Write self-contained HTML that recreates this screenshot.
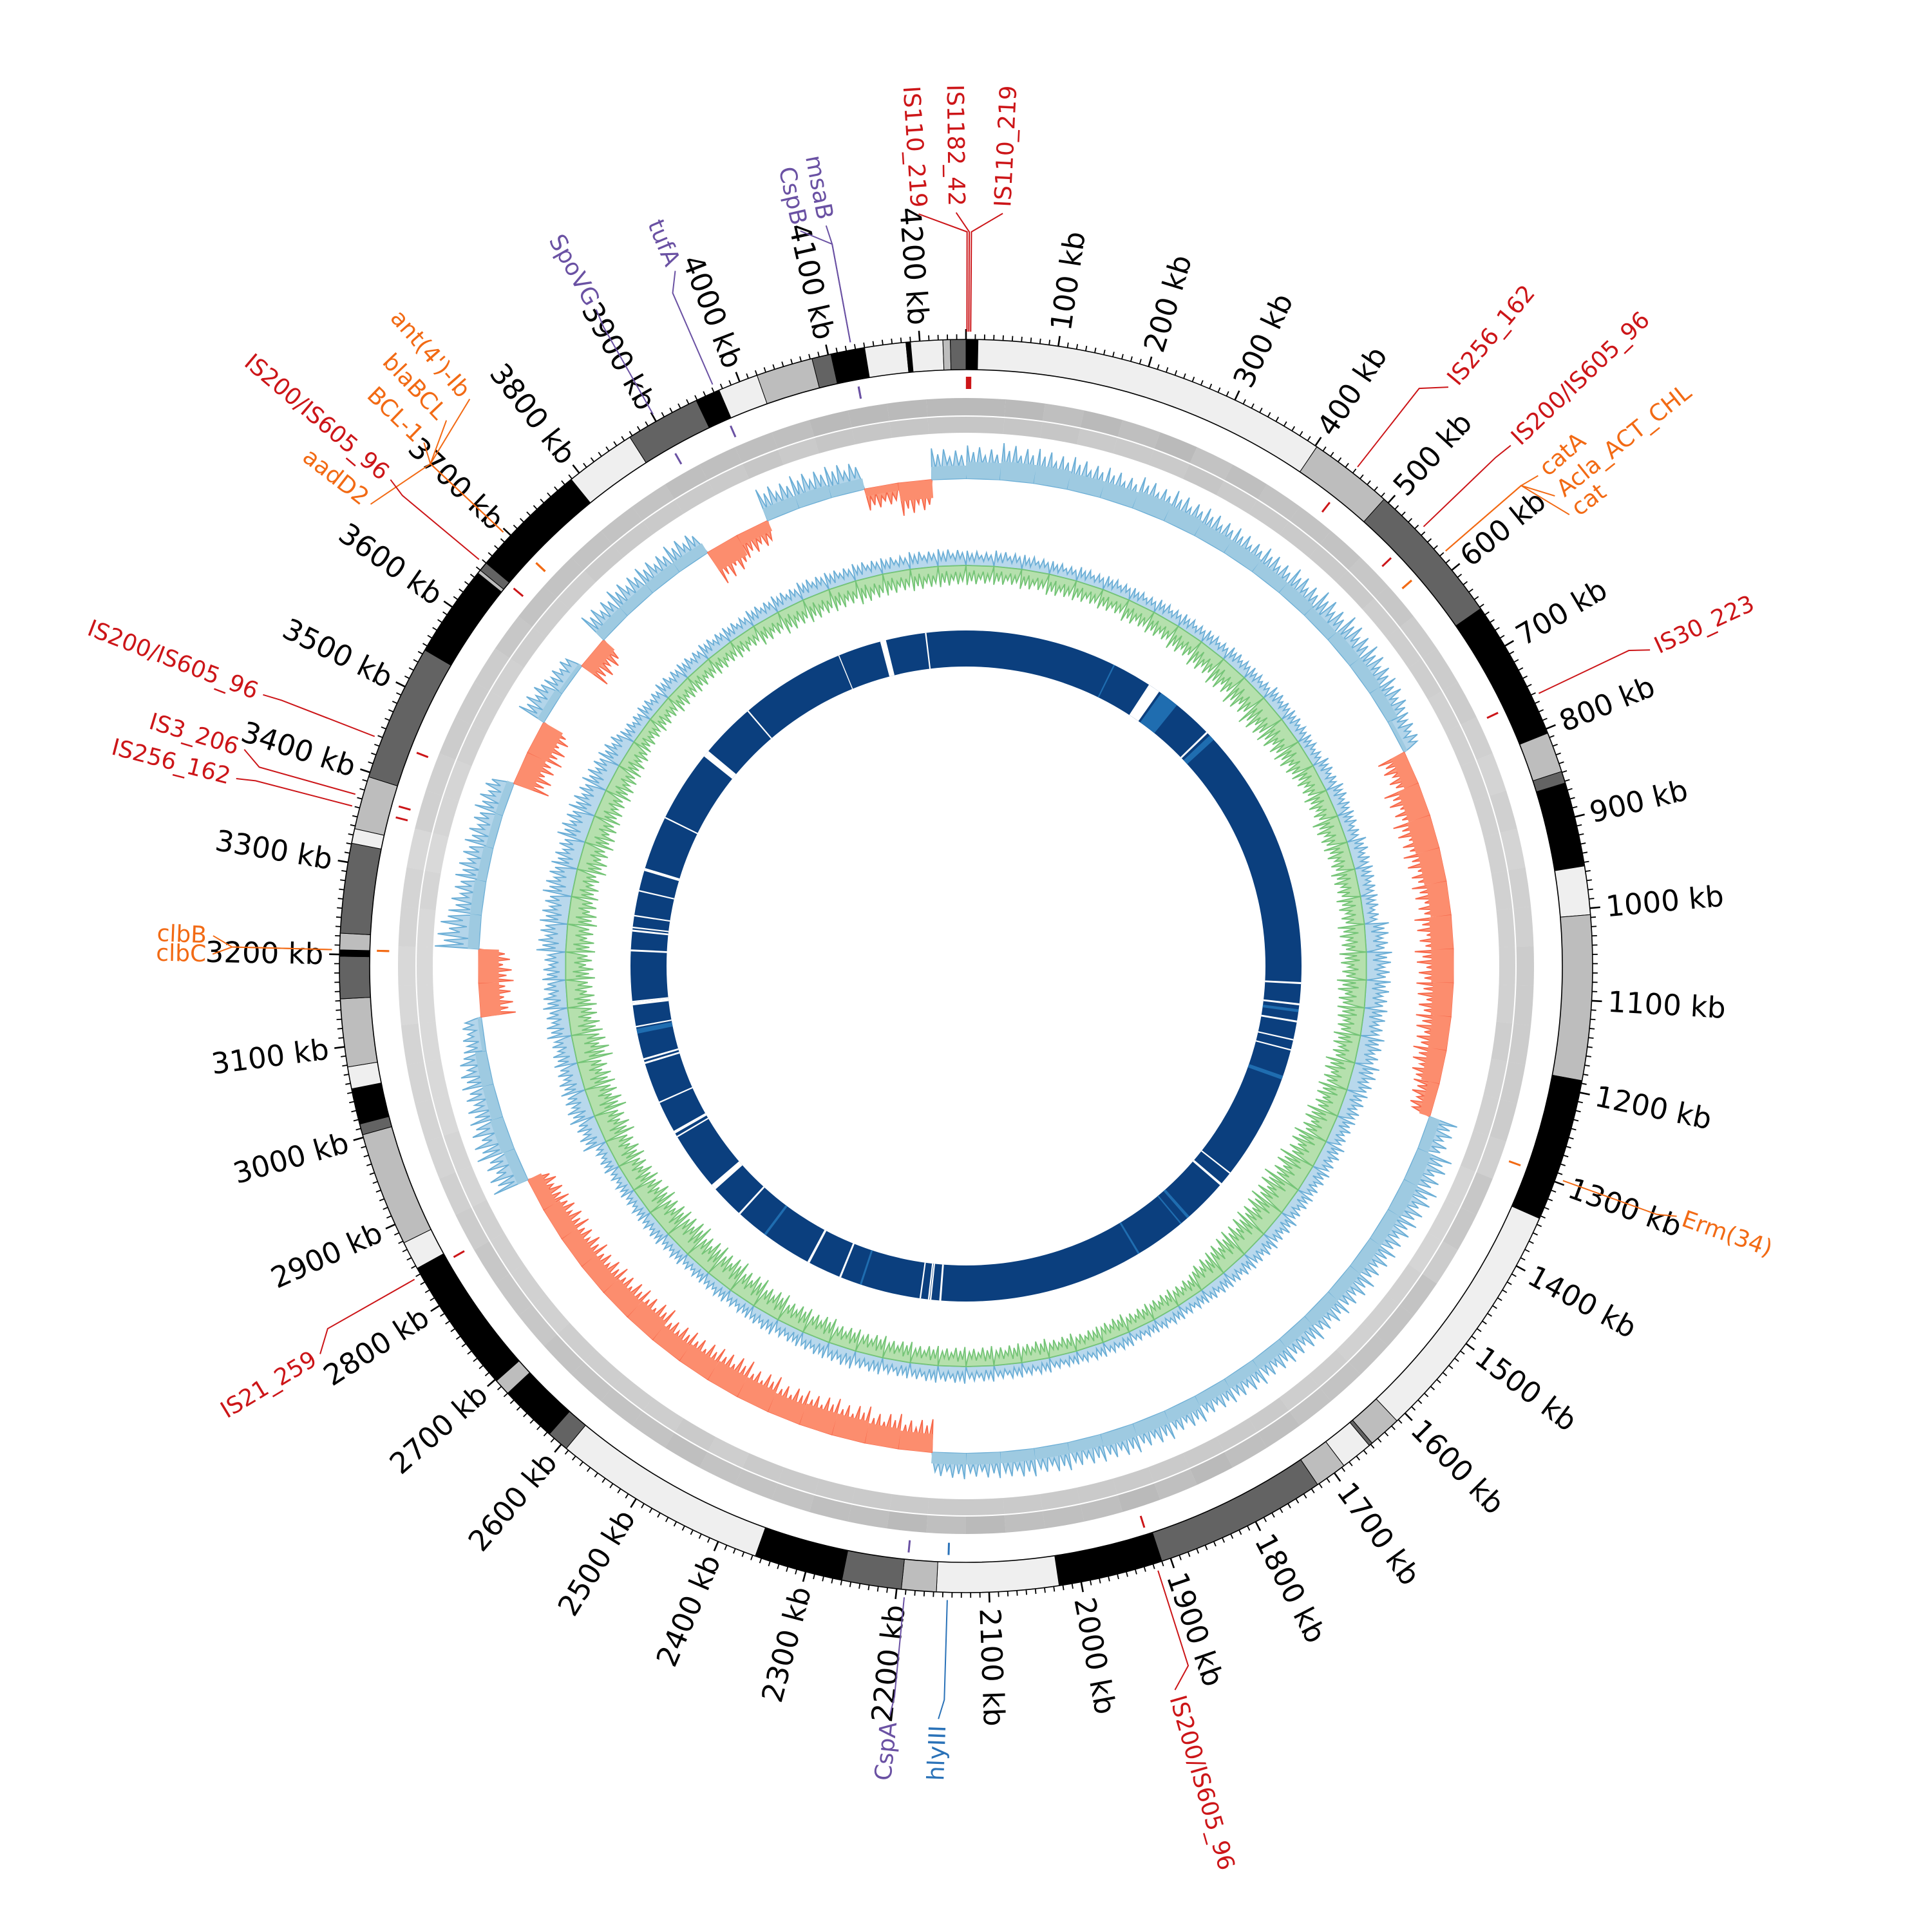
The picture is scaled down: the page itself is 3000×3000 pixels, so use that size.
<!DOCTYPE html>
<html><head><meta charset="utf-8"><title>Circular genome map</title>
<style>
html,body{margin:0;padding:0;background:#fff;}
svg{display:block;font-family:"DejaVu Sans","Liberation Sans",sans-serif;}
</style></head>
<body>
<svg id="chart" width="3000" height="3000" viewBox="0 0 3000 3000" xmlns="http://www.w3.org/2000/svg">
<rect width="3000" height="3000" fill="#fff"/>
<g id="gBands"></g>
<g id="gTicks"></g>
<g id="gGenes"></g>
<g id="gSkew"></g>
<g id="gGC"></g>
<g id="gBlast"></g>
<g id="gAnno"></g>
</svg>
<script>
// ---------- data ----------
const genomeKb = 4250;
const bandStart = [0,13,402,494,652,805,849,862,954,1007,1187,1343,1612,1648,1652,1687,1722,1910,2024,2157,2195,2260,2357,2593,2617,2680,2698,2847,2878,3003,3015,3054,3078,3152,3198,3205,3223,3321,3337,3395,3545,3646,3650,3660,3789,3867,3949,3976,4020,4082,4103,4140,4185,4190,4225,4233];
const bandEnd   = [13,402,494,652,805,849,862,954,1007,1187,1343,1612,1648,1652,1687,1722,1910,2024,2157,2195,2260,2357,2593,2617,2680,2698,2847,2878,3003,3015,3054,3078,3152,3198,3205,3223,3321,3337,3395,3545,3646,3650,3660,3789,3867,3949,3976,4020,4082,4103,4140,4185,4190,4225,4233,4250];
const bandShade = ['k','l','m','d','k','m','d','k','l','m','k','l','m','d','l','m','d','k','l','m','d','k','l','d','k','m','k','l','m','d','k','l','m','d','k','m','d','l','m','d','k','m','d','k','l','d','k','l','m','d','k','l','k','l','m','d'];

const skewMean = [0.45,0.5,0.5,0.45,0.45,0.5,0.45,0.4, 0.4,0.35,0.35,0.3,0.35,0.35,0.3, 0.1,-0.4, -0.6,-0.65,-0.6,-0.55,-0.6,-0.6,-0.55,-0.5,-0.5, -0.3,0.3, 0.4,0.4,0.35,0.35,0.35,0.35,0.3,0.3,0.3,0.3,0.35,0.35,0.35,0.3,0.3,0.3,0.3,0.3, -0.5,-0.55,-0.6,-0.6,-0.55,-0.6,-0.6,-0.55,-0.5,-0.6,-0.55,-0.5,-0.5,-0.5,-0.4, 0.3,0.35,0.3,0.3, 0.1,-0.55,-0.55, 0.3,0.3,0.25,0.2,0.2, -0.55,-0.6, 0.2,0.1,-0.4, 0.3,0.3,0.3,0.3, -0.6,-0.3, 0.35,0.35,0.3, -0.2,-0.5,0.35];
const skewPeak = [0.9,1.0,0.95,0.9,0.85,0.9,0.9,0.85, 0.8,0.8,0.85,0.9,0.95,0.9,0.8, 0.6,-0.8, -1.0,-1.05,-1.0,-0.95,-1.0,-1.05,-1.0,-0.95,-0.9, -0.7,0.8, 1.0,1.0,0.9,0.85,0.85,0.8,0.8,0.75,0.75,0.7,0.75,0.8,0.8,0.75,0.75,0.75,0.7,0.7, -0.9,-0.95,-1.0,-1.0,-0.95,-1.0,-1.05,-0.95,-0.9,-1.0,-0.95,-0.9,-0.9,-0.9,-0.8, 1.0,1.05,0.9,0.85, 0.6,-0.95,-0.95, 1.2,0.9,0.85,0.8,0.8, -1.0,-1.0, 0.8,0.6,-0.85, 0.85,0.85,0.8,0.8, -1.0,-0.7, 0.9,0.9,0.85, -0.6,-0.9,0.85];

const gcHigh = [0.6,0.65,0.6,0.55,0.6,0.6,0.55,0.6,0.6, 0.6,0.65,0.6,0.7,0.65,0.6, 0.7,0.75,0.7,0.8,0.75,0.7, 1.0,1.05,1.0,0.95,1.0,1.05,0.9, 0.8,0.85,0.8,0.75,0.8,0.8,0.75,0.7, 0.6,0.6,0.55,0.6,0.6,0.55,0.6,0.6,0.65, 0.7,0.7,0.65,0.7,0.75,0.7,0.65,0.7, 0.6,0.6,0.55,0.6,0.65,0.6,0.6,0.65, 1.0,1.05,1.0,0.95,1.0,1.0,0.95, 1.2,1.15,1.2,1.1,1.2,1.15,1.1,1.0, 0.7,0.7,0.75,0.7,0.7,0.65,0.7, 0.7,0.75,0.7,0.7,0.65,0.7,0.7];
const gcLow  = [-0.8,-0.75,-0.8,-0.85,-0.8,-0.8,-0.9,-0.9,-1.0, -1.1,-1.2,-1.3,-1.4,-1.3,-1.2, -1.0,-1.0,-1.1,-1.0,-1.0,-1.0, -1.1,-1.1,-1.2,-1.1,-1.1,-1.2,-1.2, -1.3,-1.4,-1.5,-1.6,-1.5,-1.4,-1.3,-1.1, -0.8,-0.8,-0.75,-0.8,-0.7,-0.75,-0.8,-0.8,-0.8, -0.8,-0.8,-0.85,-0.9,-0.9,-1.0,-1.0,-1.1, -1.2,-1.3,-1.3,-1.4,-1.3,-1.3,-1.2,-1.2, -1.3,-1.4,-1.3,-1.5,-1.3,-1.2,-1.2, -1.2,-1.2,-1.1,-1.2,-1.2,-1.1,-1.1,-1.0, -0.8,-0.8,-0.85,-0.8,-0.8,-0.8,-0.9, -1.0,-1.0,-0.95,-1.0,-0.9,-0.9,-0.85];

const geneFwd = [0.8,0.8,0.75,0.8,0.75,0.8,0.7,0.75,0.7, 0.7,0.7,0.65,0.65,0.6,0.6, 0.6,0.55,0.5,0.55,0.5,0.55, 0.55,0.6,0.6,0.6,0.6,0.6,0.55, 0.65,0.65,0.6,0.7,0.7,0.7,0.7,0.7, 0.75,0.75,0.8,0.75,0.8,0.75,0.75,0.75,0.8, 0.75,0.8,0.75,0.75,0.7,0.7,0.7,0.75, 0.7,0.7,0.7,0.7,0.65,0.65,0.65,0.6, 0.55,0.5,0.5,0.5,0.5,0.45,0.45, 0.5,0.5,0.45,0.55,0.55,0.6,0.6,0.6, 0.65,0.7,0.7,0.7,0.7,0.7,0.75, 0.75,0.75,0.75,0.8,0.8,0.8,0.8];
const geneRev = [0.75,0.75,0.75,0.7,0.7,0.7,0.75,0.7,0.7, 0.7,0.7,0.7,0.65,0.65,0.65, 0.6,0.6,0.6,0.6,0.6,0.6, 0.6,0.6,0.6,0.65,0.6,0.6,0.6, 0.55,0.55,0.55,0.6,0.6,0.6,0.65,0.65, 0.7,0.7,0.7,0.7,0.7,0.7,0.7,0.7,0.7, 0.7,0.7,0.7,0.7,0.7,0.7,0.65,0.7, 0.65,0.65,0.65,0.65,0.6,0.6,0.6,0.6, 0.55,0.55,0.5,0.5,0.5,0.5,0.5, 0.5,0.55,0.5,0.55,0.55,0.6,0.6,0.6, 0.65,0.65,0.65,0.7,0.7,0.7,0.7, 0.7,0.75,0.7,0.75,0.75,0.75,0.75];

const gapKb    = [308,390,420,540,550,1095,1138,1150,1173,1211,1232,1288,1511,1539,1632,1653,1757,2175,2195,2199,2216,2339,2383,2453,2557,2624,2695,2825,2834,2903,2987,2995,3050,3063,3108,3114,3217,3257,3264,3288,3339,3382,3496,3644,3770,3986,4075,4167];
const gapWidth = [3,25,40,4,12,4,4,6,4,3,3,8,3,5,6,3,4,4,3,3,3,4,4,5,5,4,12,3,6,3,4,4,10,3,6,3,4,4,3,3,3,6,3,14,3,2,12,3];
const gapType  = ['l','w','l','w','l','w','w','l','w','w','w','l','w','w','l','l','l','w','w','w','w','l','w','w','l','w','w','w','w','w','w','w','l','w','w','w','w','w','w','w','w','w','w','w','w','w','w','w'];

const annoNames = ['IS110_219','IS1182_42','IS110_219','msaB','CspB','tufA','SpoVG',"ant(4')-Ib",'blaBCL','BCL-1','aadD2','IS200/IS605_96','IS200/IS605_96','IS3_206','IS256_162','clbB','clbC','IS21_259','CspA','hlyIII','IS200/IS605_96','Erm(34)','IS30_223','catA','Acla_ACT_CHL','cat','IS200/IS605_96','IS256_162'];
const annoKb    = [1,3,5,4126,4126,3972,3901,3697,3697,3697,3697,3658,3438,3373,3360,3205,3205,2838,2191,2145,1917,1296,762,580,580,580,545,450];
const annoLabelDeg = [356.4,359.25,2.8,349.3,347.3,337.3,330.6,318.8,316.4,314.0,307.8,310.2,291.1,286.7,284.4,272.3,270.9,239.0,185.8,182.1,163.9,109.4,65.2,49.4,51.4,53.2,46.3,39.8];
const annoType  = ['is','is','is','hk','hk','hk','hk','ar','ar','ar','ar','is','is','is','is','ar','ar','is','hk','vf','is','ar','is','ar','ar','ar','is','is'];

// ---------- geometry ----------
const NS='http://www.w3.org/2000/svg';
const CX=1500, CY=1500;
const R_RING_OUT=973, R_RING_IN=926;
const R_FWD=[855,882], R_REV=[828,853];
const SKEW_BASE=757, SKEW_U=57;
const GC_BASE=622, GC_U=38;
const R_BLAST=[465,521];
const shadeColor={k:'#000000',l:'#efefef',m:'#bdbdbd',d:'#636363'};
const annoColor={is:'#cc1518',ar:'#f26a14',hk:'#6a51a3',vf:'#2a72b8'};
const jag=[1,0.35,0.8,0.25,0.95,0.45,0.7,0.3,0.9,0.4,0.75,0.3];

function ang(kb){return kb/genomeKb*2*Math.PI;}
function pt(r,a){return [CX+r*Math.sin(a), CY-r*Math.cos(a)];}
function f(v){return v.toFixed(2);}
function sector(r1,r2,a1,a2){
  const lg=(a2-a1)>Math.PI?1:0;
  const p1=pt(r2,a1),p2=pt(r2,a2),p3=pt(r1,a2),p4=pt(r1,a1);
  return `M${f(p1[0])},${f(p1[1])}A${r2},${r2} 0 ${lg} 1 ${f(p2[0])},${f(p2[1])}L${f(p3[0])},${f(p3[1])}A${r1},${r1} 0 ${lg} 0 ${f(p4[0])},${f(p4[1])}Z`;
}
function mk(tag,attrs,parent){
  const e=document.createElementNS(NS,tag);
  for(const k in attrs) e.setAttribute(k,attrs[k]);
  parent.appendChild(e); return e;
}
function radialText(str,deg,r,color,size,parent){
  const a=deg*Math.PI/180, p=pt(r,a);
  const right=(deg>0&&deg<180);
  const rot=right?deg-90:deg+90;
  const t=mk('text',{x:0,y:0,transform:`translate(${f(p[0])},${f(p[1])}) rotate(${f(rot)})`,'text-anchor':right?'start':'end','dominant-baseline':'central','font-size':size,fill:color},parent);
  t.textContent=str; return t;
}

// ---------- contig ring ----------
const gB=document.getElementById('gBands');
for(let i=0;i<bandStart.length;i++){
  const e=mk('path',{d:sector(R_RING_IN,R_RING_OUT,ang(bandStart[i]),ang(bandEnd[i])),fill:shadeColor[bandShade[i]],stroke:'#000','stroke-width':1},gB);
  
  
}
[R_RING_OUT,R_RING_IN].forEach(r=>{
  const c=mk('circle',{cx:CX,cy:CY,r:r,fill:'none',stroke:'#000','stroke-width':1.6},gB);
  
  
});

// ---------- ticks & kb labels ----------
const gT=document.getElementById('gTicks');
for(let kb=0;kb<genomeKb;kb+=10){
  const a=ang(kb), major=kb%100===0;
  const p1=pt(R_RING_OUT,a),p2=pt(R_RING_OUT+(major?16:8),a);
  const l=mk('line',{x1:f(p1[0]),y1:f(p1[1]),x2:f(p2[0]),y2:f(p2[1]),stroke:'#000','stroke-width':major?2.6:1.8},gT);
  
  
  if(major&&kb>0){
    const deg=kb/genomeKb*360;
    const t=radialText(kb+' kb',deg,998,'#000',45,gT);
    
    
  }
}

// ---------- genes ----------
const gG=document.getElementById('gGenes');
const nb=geneFwd.length;
for(let i=0;i<nb;i++){
  const a1=ang(i*genomeKb/nb),a2=ang((i+1)*genomeKb/nb);
  const e1=mk('path',{d:sector(R_FWD[0],R_FWD[1],a1,a2),fill:'#9a9a9a','fill-opacity':(geneFwd[i]*0.85).toFixed(3)},gG);
  
  
  const e2=mk('path',{d:sector(R_REV[0],R_REV[1],a1,a2),fill:'#9a9a9a','fill-opacity':(geneRev[i]*0.75).toFixed(3)},gG);
  
  
}

// ---------- spiky track helper ----------
function spikes(base,U,val,a1,a2,fill,stroke,parent,name){
  let d='';
  const p0=pt(base,a1); d+=`M${f(p0[0])},${f(p0[1])}`;
  const n=jag.length;
  for(let k=0;k<n;k++){
    const aa=a1+(k+0.5)/n*(a2-a1);
    const p=pt(base+val*U*jag[k],aa);
    d+=`L${f(p[0])},${f(p[1])}`;
  }
  const pe=pt(base,a2); d+=`L${f(pe[0])},${f(pe[1])}Z`;
  const e=mk('path',{d:d,fill:fill,stroke:stroke,'stroke-width':1.8},parent);
  
  
}

// ---------- GC skew ----------
const gS=document.getElementById('gSkew');
for(let i=0;i<skewMean.length;i++){
  const a1=ang(i*genomeKb/skewMean.length),a2=ang((i+1)*genomeKb/skewMean.length);
  const v=skewMean[i], pos=v>=0;
  spikes(SKEW_BASE,SKEW_U,skewPeak[i],a1,a2,pos?'#b3d5ea':'#fc9a7c',pos?'#6baed6':'#f7684a',gS,'skew-spikes');
  const r1=pos?SKEW_BASE:SKEW_BASE+v*SKEW_U, r2=pos?SKEW_BASE+v*SKEW_U:SKEW_BASE;
  const e=mk('path',{d:sector(r1,r2,a1,a2),fill:pos?'#9ecae1':'#fc8d6e'},gS);
  
  
}

// ---------- GC content ----------
const gC=document.getElementById('gGC');
for(let i=0;i<gcHigh.length;i++){
  const a1=ang(i*genomeKb/gcHigh.length),a2=ang((i+1)*genomeKb/gcHigh.length);
  spikes(GC_BASE,GC_U,gcHigh[i],a1,a2,'#b8d8ec','#6baed6',gC,'gc-high-spikes');
  spikes(GC_BASE,GC_U,gcLow[i],a1,a2,'#b5e0ad','#74c476',gC,'gc-low-spikes');
}

// ---------- BLAST ring ----------
const gBl=document.getElementById('gBlast');
const ringC=mk('path',{d:sector(R_BLAST[0],R_BLAST[1],0,Math.PI)+sector(R_BLAST[0],R_BLAST[1],Math.PI,2*Math.PI),fill:'#0b3f7e'},gBl);


for(let i=0;i<gapKb.length;i++){
  const a1=ang(gapKb[i]),a2=ang(gapKb[i]+gapWidth[i]);
  const e=mk('path',{d:sector(R_BLAST[0],R_BLAST[1],a1,a2),fill:gapType[i]==='w'?'#ffffff':'#1f6db0'},gBl);
  
  
}

// ---------- annotations ----------
const gA=document.getElementById('gAnno');
for(let i=0;i<annoNames.length;i++){
  const col=annoColor[annoType[i]];
  const a=ang(annoKb[i]), la=annoLabelDeg[i]*Math.PI/180;
  const m1=pt(896,a),m2=pt(915,a);
  const mkr=mk('line',{x1:f(m1[0]),y1:f(m1[1]),x2:f(m2[0]),y2:f(m2[1]),stroke:col,'stroke-width':3},gA);
  
  
  const p1=pt(985,a),p2=pt(1140,a),p3=pt(1170,la);
  const ld=mk('polyline',{points:`${f(p1[0])},${f(p1[1])} ${f(p2[0])},${f(p2[1])} ${f(p3[0])},${f(p3[1])}`,fill:'none',stroke:col,'stroke-width':2},gA);
  
  
  const t=radialText(annoNames[i],annoLabelDeg[i],1180,col,36,gA);
  
  
}
</script>
</body></html>
